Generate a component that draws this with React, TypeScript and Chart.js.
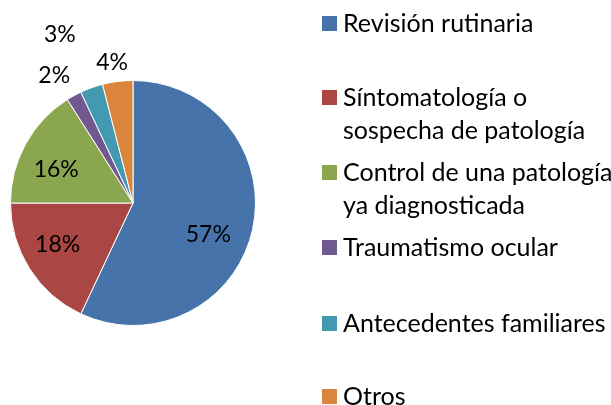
import React, { useEffect, useRef } from "react";
import { Chart, registerables } from "chart.js";

Chart.register(...registerables);

const categories = [
  "Revisión rutinaria",
  "Síntomatología o sospecha de patología",
  "Control de una patología ya diagnosticada",
  "Traumatismo ocular",
  "Antecedentes familiares",
  "Otros",
];
const values = [57, 18, 16, 2, 3, 4];
const colors = ["#4673AA", "#AA4644", "#8AA64F", "#71598F", "#4299B0", "#DB843D"];

// label placement style: radius factor + pixel nudge
const labelRadius = [0.63, 0.7, 0.65, 1.25, 1.45, 1.17];
const labelNudge: [number, number][] = [[0, 15], [-3, -4], [-7, 5], [-5, 7], [-13, -1], [-3, 2]];
// legend item tops (px)
const legendTops = [6, 80, 155, 230, 306, 379];

const FONT = "Lato, 'Open Sans', sans-serif";

const pctLabels = {
  id: "pctLabels",
  afterDatasetsDraw(chart: any) {
    const ctx = chart.ctx;
    const meta = chart.getDatasetMeta(0);
    const data = chart.data.datasets[0].data as number[];
    const total = data.reduce((a, b) => a + b, 0);
    ctx.save();
    ctx.font = `23px ${FONT}`;
    ctx.fillStyle = "#000";
    ctx.textAlign = "center";
    ctx.textBaseline = "middle";
    meta.data.forEach((arc: any, i: number) => {
      const { x, y, startAngle, endAngle, outerRadius } = arc.getProps(
        ["x", "y", "startAngle", "endAngle", "outerRadius"],
        true
      );
      const mid = (startAngle + endAngle) / 2;
      const r = outerRadius * labelRadius[i];
      const px = x + Math.cos(mid) * r + labelNudge[i][0];
      const py = y + Math.sin(mid) * r + labelNudge[i][1];
      ctx.fillText(Math.round((data[i] / total) * 100) + "%", px, py);
    });
    ctx.restore();
  },
};

export default function App() {
  const ref = useRef<HTMLCanvasElement>(null);
  useEffect(() => {
    const chart = new Chart(ref.current!, {
      type: "pie",
      data: {
        labels: categories,
        datasets: [
          {
            data: values,
            backgroundColor: colors,
            borderColor: "#ffffff",
            borderWidth: 1,
          },
        ],
      },
      options: {
        animation: false,
        responsive: false,
        layout: { padding: { left: 10, right: 355, top: 80, bottom: 79 } },
        plugins: { legend: { display: false }, tooltip: { enabled: false } },
      },
      plugins: [pctLabels],
    });
    return () => chart.destroy();
  }, []);

  return (
    <div style={{ position: "fixed", left: 0, top: 0, width: 611, height: 405, background: "#fff", overflow: "hidden" }}>
      <canvas ref={ref} width={611} height={405} style={{ position: "absolute", left: 0, top: 0 }} />
      {categories.map((c, i) => (
        <div
          key={c}
          style={{
            position: "absolute",
            left: 322,
            top: legendTops[i],
            width: 320,
            fontFamily: FONT,
            fontSize: 25,
            lineHeight: "33px",
            color: "#000",
            display: "flex",
            alignItems: "flex-start",
          }}
        >
          <span style={{ width: 15, height: 15, marginTop: 10, background: colors[i], flex: "0 0 15px" }} />
          <span style={{ marginLeft: 6, width: 282, flex: "0 0 282px", whiteSpace: "normal" }}>{c}</span>
        </div>
      ))}
    </div>
  );
}
